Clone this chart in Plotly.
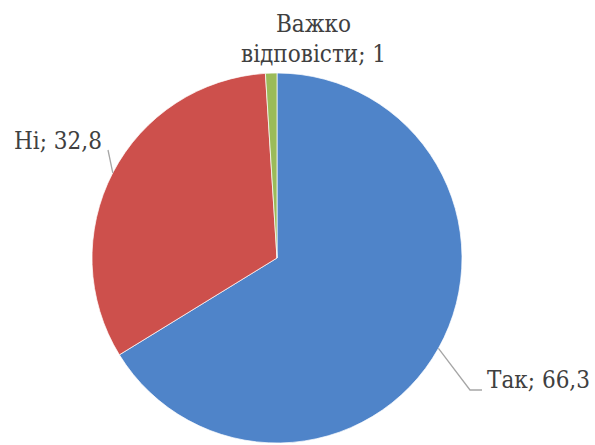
import math
import plotly.graph_objects as go

labels = ["Так", "Ні", "Важко відповісти"]
values = [66.3, 32.8, 1]
label_texts = ["Так; 66,3", "Ні; 32,8", "Важко", "відповісти; 1"]
colors = ["#4F84C9", "#CD504C", "#9BBB59"]

W, H = 595, 445
CX, CY, R = 277, 258, 185  # pie centre/radius in pixels


def px(x):
    return x / W


def py(y):
    return 1 - y / H


fig = go.Figure(go.Pie(
    labels=labels,
    values=values,
    sort=False,
    direction="clockwise",
    rotation=0,
    textinfo="none",
    hoverinfo="label+value",
    marker=dict(colors=colors, line=dict(color="rgba(255,255,255,0.7)", width=1)),
    domain=dict(x=[px(CX - R), px(CX + R)], y=[py(CY + R), py(CY - R)]),
    showlegend=False,
))

# mid-angle edge points computed from the data
total = sum(values)
cum = 0
edge = []
for v in values:
    mid = (cum + v / 2) / total * 2 * math.pi
    edge.append((CX + R * math.sin(mid), CY - R * math.cos(mid)))
    cum += v

font = dict(family="DejaVu Serif Condensed, DejaVu Serif", size=24, color="#404040")
ann = []
ann.append(dict(x=px(592), y=py(380), xref="paper", yref="paper", text=label_texts[0],
                showarrow=False, xanchor="right", yanchor="middle", font=font))
ann.append(dict(x=px(12), y=py(141), xref="paper", yref="paper", text=label_texts[1],
                showarrow=False, xanchor="left", yanchor="middle", font=font))
ann.append(dict(x=px(313), y=py(24), xref="paper", yref="paper", text=label_texts[2],
                showarrow=False, xanchor="center", yanchor="middle", font=font))
ann.append(dict(x=px(313), y=py(54), xref="paper", yref="paper", text=label_texts[3],
                showarrow=False, xanchor="center", yanchor="middle", font=font))

line = dict(color="#A6A6A6", width=1.3)
shapes = []
ex, ey = edge[0]
shapes.append(dict(type="path", xref="paper", yref="paper",
                   path=f"M {px(ex)},{py(ey)} L {px(470)},{py(390)} L {px(482)},{py(390)}",
                   line=line))
ex, ey = edge[1]
shapes.append(dict(type="path", xref="paper", yref="paper",
                   path=f"M {px(ex)},{py(ey)} L {px(108)},{py(150)}",
                   line=line))

fig.update_layout(
    width=W, height=H,
    margin=dict(l=0, r=0, t=0, b=0),
    paper_bgcolor="white",
    plot_bgcolor="white",
    annotations=ann,
    shapes=shapes,
)

fig.write_html("out.html")
